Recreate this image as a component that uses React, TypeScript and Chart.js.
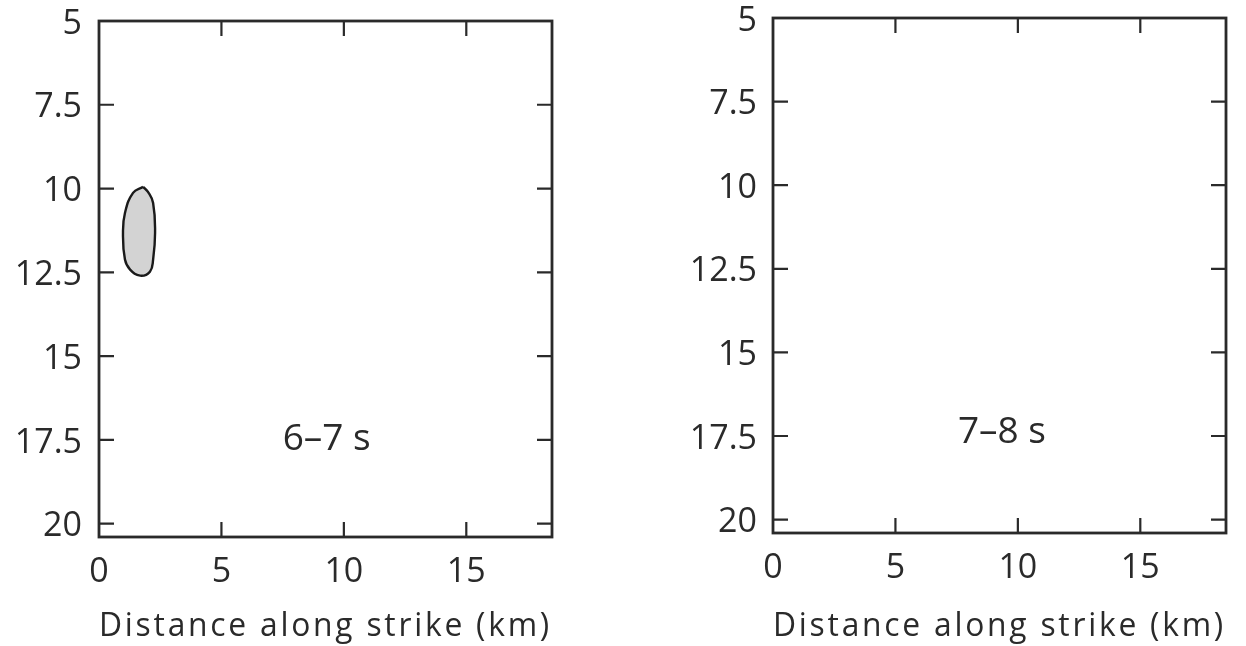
import React, { useEffect, useRef } from 'react';
import { Chart, registerables } from 'chart.js';

Chart.register(...registerables);

// ---- data ----
const xTicks = [0, 5, 10, 15];
const yTicks = [5, 7.5, 10, 12.5, 15, 17.5, 20];
const xMin = 0;
const xMax = 18.5;
const yMin = 5;
const yMax = 20.4;
const xTitle = 'Distance along strike (km)';
const panelTimes = ['6–7 s', '7–8 s'];
const timeLabelX = [9.3, 9.35];
const timeLabelY = [17.5, 17.38];
// rupture patch outline (km along strike, depth km), closed
const blobX = [1.8, 1.39, 1.06, 0.98, 1.06, 1.27, 1.68, 2.08, 2.21, 2.29, 2.21, 2.0, 1.8];
const blobY = [9.95, 10.13, 10.73, 11.32, 12.12, 12.42, 12.6, 12.48, 12.12, 11.32, 10.43, 10.1, 9.95];

const FONT = "'Open Sans', 'Noto Sans', sans-serif";
const INK = '#2a2a2a';
const TITLE_WIDTH = 470;
const TITLE_SIZE = 33;
const Y_LABEL_SHIFT = 3;

type Panel = {
  idx: number;
  left: number;
  width: number;
  axisW: number;
  padTop: number;
  padRight: number;
  xAxisH: number;
  withPatch: boolean;
  yPad: number;
};

const panels: Panel[] = [
  { idx: 0, left: 0, width: 623, axisW: 99, padTop: 21, padRight: 71, xAxisH: 109, withPatch: true, yPad: 17 },
  { idx: 1, left: 623, width: 623, axisW: 150, padTop: 18, padRight: 20, xAxisH: 113, withPatch: false, yPad: 16 },
];

const framePlugin = {
  id: 'frameTicks',
  beforeDraw(chart: any) {
    const s: any = chart.scales.x;
    if (s && !s.__patched) {
      const orig = s.drawTitle;
      s.drawTitle = function () {
        const c = this.ctx;
        c.save();
        c.font = `${TITLE_SIZE}px ${FONT}`;
        const w = c.measureText(xTitle).width;
        const sp = Math.max(0, (TITLE_WIDTH - w) / xTitle.length);
        c.letterSpacing = `${sp}px`;
        orig.call(this);
        c.restore();
      };
      s.__patched = true;
    }
    const ys: any = chart.scales.y;
    if (ys && !ys.__patched) {
      const origL = ys.drawLabels;
      ys.drawLabels = function (area: any) {
        const c = this.ctx;
        c.save();
        c.translate(0, Y_LABEL_SHIFT);
        origL.call(this, area);
        c.restore();
      };
      ys.__patched = true;
    }
  },
  afterDatasetsDraw(chart: any, _args: any, opts: any) {
    const { ctx, chartArea: a, scales } = chart;
    const x = scales.x;
    const y = scales.y;
    ctx.save();
    ctx.strokeStyle = INK;
    ctx.lineWidth = 2.8;
    ctx.strokeRect(a.left, a.top, a.right - a.left, a.bottom - a.top);
    ctx.lineWidth = 2.2;
    const L = 15;
    ctx.beginPath();
    xTicks.forEach((v) => {
      if (v === xMin) return;
      const p = x.getPixelForValue(v);
      ctx.moveTo(p, a.top);
      ctx.lineTo(p, a.top + L);
      ctx.moveTo(p, a.bottom);
      ctx.lineTo(p, a.bottom - L);
    });
    yTicks.forEach((v) => {
      if (v === yMin) return;
      const p = y.getPixelForValue(v);
      ctx.moveTo(a.left, p);
      ctx.lineTo(a.left + L, p);
      ctx.moveTo(a.right, p);
      ctx.lineTo(a.right - L, p);
    });
    ctx.stroke();
    ctx.fillStyle = INK;
    ctx.font = `37px ${FONT}`;
    ctx.textAlign = 'center';
    ctx.textBaseline = 'middle';
    ctx.fillText(opts.text, x.getPixelForValue(opts.tx), y.getPixelForValue(opts.ty));
    ctx.restore();
  },
};

function PanelChart({ p }: { p: Panel }) {
  const ref = useRef<HTMLCanvasElement>(null);
  useEffect(() => {
    const datasets: any[] = [];
    if (p.withPatch) {
      datasets.push({
        data: blobX.map((v, i) => ({ x: v, y: blobY[i] })),
        showLine: true,
        fill: 'shape',
        tension: 0.45,
        borderColor: '#1a1a1a',
        borderWidth: 2.4,
        backgroundColor: '#d3d3d3',
        pointRadius: 0,
      });
    }
    const chart = new Chart(ref.current as HTMLCanvasElement, {
      type: 'scatter',
      data: { datasets },
      plugins: [framePlugin as any],
      options: {
        animation: false,
        responsive: false,
        maintainAspectRatio: false,
        layout: { padding: { left: 0, top: p.padTop, right: p.padRight, bottom: 0 } },
        plugins: {
          legend: { display: false },
          tooltip: { enabled: false },
          frameTicks: { text: panelTimes[p.idx], tx: timeLabelX[p.idx], ty: timeLabelY[p.idx] },
        } as any,
        scales: {
          x: {
            type: 'linear',
            min: xMin,
            max: xMax,
            grid: { display: false, drawTicks: false },
            border: { display: false },
            afterBuildTicks: (s: any) => {
              s.ticks = xTicks.map((v) => ({ value: v }));
            },
            afterFit: (s: any) => {
              s.height = p.xAxisH;
              s.paddingLeft = 0;
              s.paddingRight = 0;
            },
            ticks: {
              color: INK,
              padding: 18,
              maxRotation: 0,
              autoSkip: false,
              font: { family: FONT, size: 34, lineHeight: 1 },
              callback: (v: any) => String(v),
            },
            title: {
              display: true,
              text: xTitle,
              color: INK,
              font: { family: FONT, size: TITLE_SIZE, lineHeight: 1.2 },
              padding: { top: 0, bottom: 0 },
            },
          },
          y: {
            type: 'linear',
            reverse: true,
            min: yMin,
            max: yMax,
            grid: { display: false, drawTicks: false },
            border: { display: false },
            afterBuildTicks: (s: any) => {
              s.ticks = yTicks.map((v) => ({ value: v }));
            },
            afterFit: (s: any) => {
              s.width = p.axisW;
              s.paddingTop = 0;
              s.paddingBottom = 0;
            },
            ticks: {
              color: INK,
              padding: p.yPad,
              autoSkip: false,
              font: { family: FONT, size: 34, lineHeight: 1 },
              callback: (v: any) => String(v),
            },
          },
        },
      } as any,
    });
    return () => chart.destroy();
  }, []);
  return (
    <canvas
      ref={ref}
      width={p.width}
      height={646}
      style={{ position: 'absolute', left: p.left, top: 0, width: p.width, height: 646 }}
    />
  );
}

export default function App() {
  return (
    <div style={{ position: 'absolute', left: 0, top: 0, width: 1246, height: 646, background: '#fff' }}>
      {panels.map((p) => (
        <PanelChart key={p.idx} p={p} />
      ))}
    </div>
  );
}
